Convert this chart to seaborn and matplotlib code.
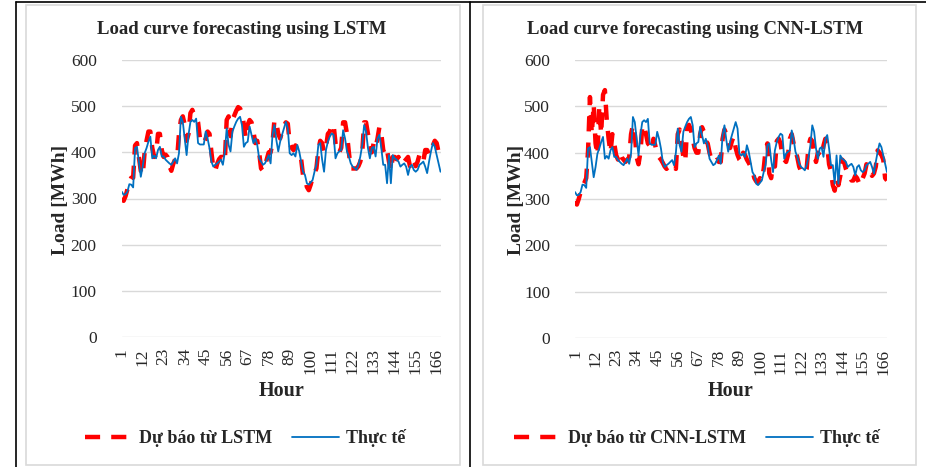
import numpy as np
import pandas as pd
import matplotlib
matplotlib.use('Agg')
import matplotlib.pyplot as plt
import seaborn as sns
from matplotlib.lines import Line2D
from matplotlib.patches import Rectangle

# Hour index and tick labels
hours = list(range(1, 169))
tick_hours = [1, 12, 23, 34, 45, 56, 67, 78, 89, 100, 111, 122, 133, 144, 155, 166]

# Actual load (MWh)
actual = [
    315, 308, 309, 315, 331, 330, 324, 409, 412, 380,
    347, 369, 398, 409, 423, 434, 387, 393, 387, 405,
    412, 391, 391, 384, 380, 376, 373, 380, 387, 376,
    398, 477, 466, 430, 394, 438, 466, 470, 466, 473,
    420, 417, 417, 417, 445, 430, 409, 380, 369, 373,
    376, 380, 384, 373, 400, 452, 416, 402, 445, 456,
    466, 473, 477, 459, 412, 420, 423, 456, 438, 420,
    430, 416, 387, 380, 373, 376, 384, 394, 376, 438,
    459, 427, 402, 423, 438, 452, 466, 452, 398, 394,
    398, 391, 416, 402, 380, 358, 351, 333, 330, 335,
    340, 358, 373, 416, 420, 384, 358, 405, 423, 434,
    441, 438, 387, 398, 402, 405, 448, 430, 402, 391,
    376, 369, 366, 362, 373, 391, 416, 459, 445, 409,
    387, 409, 412, 391, 430, 438, 409, 373, 373, 333,
    394, 333, 394, 387, 384, 380, 369, 373, 376, 369,
    351, 369, 373, 362, 358, 362, 373, 376, 380, 369,
    355, 380, 402, 420, 412, 394, 376, 358,
]

# LSTM forecast (MWh)
lstm = [
    300, 295, 305, 320, 335, 345, 345, 415, 420, 390,
    360, 350, 400, 425, 445, 445, 410, 390, 395, 440,
    440, 405, 390, 395, 390, 370, 360, 375, 385, 385,
    440, 470, 478, 460, 425, 440, 485, 492, 480, 475,
    465, 430, 420, 420, 430, 445, 440, 400, 365, 360,
    375, 385, 390, 390, 380, 470, 478, 435, 470, 480,
    490, 498, 495, 485, 460, 430, 460, 470, 465, 445,
    420, 425, 400, 365, 360, 370, 385, 400, 400, 420,
    470, 465, 440, 430, 445, 458, 465, 462, 420, 410,
    405, 415, 405, 390, 385, 350, 345, 325, 318, 330,
    345, 355, 365, 405, 425, 420, 400, 410, 440, 445,
    460, 460, 420, 400, 400, 410, 465, 465, 440, 400,
    365, 365, 365, 365, 370, 380, 400, 465, 465, 440,
    420, 400, 420, 410, 430, 455, 440, 405, 395, 405,
    380, 360, 390, 390, 385, 390, 375, 380, 380, 385,
    390, 370, 380, 385, 370, 380, 395, 385, 380, 405,
    405, 395, 405, 415, 425, 420, 400, 390,
]

# CNN-LSTM forecast (MWh)
cnn_lstm = [
    295, 288, 300, 315, 328, 335, 345, 405, 520, 440,
    505, 420, 395, 500, 440, 525, 535, 470, 430, 400,
    440, 420, 395, 385, 400, 390, 385, 380, 385, 390,
    440, 460, 440, 390, 375, 400, 455, 460, 440, 420,
    415, 405, 430, 415, 395, 390, 385, 378, 370, 365,
    370, 375, 375, 368, 365, 440, 450, 425, 390, 380,
    455, 460, 450, 430, 410, 400, 400, 440, 455, 445,
    425, 420, 400, 385, 380, 380, 385, 380, 380, 430,
    450, 440, 420, 410, 425, 435, 410, 395, 385, 380,
    400, 395, 385, 378, 370, 360, 345, 338, 335, 345,
    340, 365, 405, 420, 355, 345, 375, 370, 425, 430,
    420, 395, 385, 380, 395, 430, 440, 420, 405, 390,
    370, 360, 358, 355, 365, 415, 430, 425, 400, 380,
    400, 395, 390, 415, 430, 415, 375, 360, 330, 318,
    345, 330, 350, 385, 380, 365, 355, 350, 340, 340,
    350, 345, 335, 330, 345, 355, 375, 370, 360, 350,
    355, 370, 405, 400, 395, 385, 345, 340,
]

sns.set_style('white')
plt.rcParams['font.family'] = ['Liberation Serif', 'DejaVu Serif']

W, H = 926, 467
fig = plt.figure(figsize=(W / 100, H / 100), dpi=100)
fig.patch.set_facecolor('white')


def px(x0, y0, x1, y1):
    # pixel box (top-left origin) -> figure fraction [left, bottom, width, height]
    return [x0 / W, 1 - y1 / H, (x1 - x0) / W, (y1 - y0) / H]


# outer table lines and chart frames
for xs, ys in [((16, 16), (2, 467)), ((470, 470), (2, 467)), ((16, 926), (2, 2))]:
    fig.add_artist(Line2D([x / W for x in xs], [1 - y / H for y in ys],
                          color='black', lw=1.2, transform=fig.transFigure))
for x0, x1 in [(26, 460), (483, 916)]:
    fig.add_artist(Rectangle((x0 / W, 1 - 465 / H), (x1 - x0) / W, (465 - 5) / H,
                             fill=False, edgecolor='#d9d9d9', lw=1.2,
                             transform=fig.transFigure))

panels = [
    dict(box=px(121.7, 60, 440.5, 337), pred=lstm,
         title='Load curve forecasting using LSTM', tx=242,
         ylx=60, xlx=282, label='Dự báo từ LSTM', lgx=245),
    dict(box=px(575, 60, 887, 338), pred=cnn_lstm,
         title='Load curve forecasting using CNN-LSTM', tx=695,
         ylx=517, xlx=731, label='Dự báo từ CNN-LSTM', lgx=697),
]

for p in panels:
    ax = fig.add_axes(p['box'])
    df = pd.DataFrame({'Hour': hours, 'Forecast': p['pred'], 'Actual': actual})
    sns.lineplot(data=df, x='Hour', y='Forecast', ax=ax, color='#ff0000', lw=3.2,
                 label=p['label'], zorder=2)
    ax.lines[-1].set_dashes((3.4, 2.5))
    ax.lines[-1].set_dash_capstyle('butt')
    sns.lineplot(data=df, x='Hour', y='Actual', ax=ax, color='#0070c0', lw=1.3,
                 label='Thực tế', zorder=3)

    ax.set_xlim(1, 168)
    ax.set_ylim(0, 600)
    ax.set_yticks(range(0, 601, 100))
    ax.set_xticks(tick_hours)
    ax.set_xticklabels([str(t) for t in tick_hours], rotation=90)
    ax.tick_params(axis='y', labelsize=12.5, pad=18, length=0)
    ax.tick_params(axis='x', labelsize=12.5, pad=8, length=0)
    ax.grid(axis='y', color='#d9d9d9', lw=1)
    ax.set_axisbelow(True)
    for s in ax.spines.values():
        s.set_visible(False)
    ax.set_xlabel('')
    ax.set_ylabel('')
    ax.set_facecolor('none')

    fig.text(p['tx'] / W, 1 - 30 / H, p['title'], ha='center', va='center',
             fontsize=13.5, fontweight='bold')
    fig.text(p['ylx'] / W, 1 - 200 / H, 'Load [MWh]', ha='center', va='center',
             rotation=90, fontsize=14, fontweight='bold')
    fig.text(p['xlx'] / W, 1 - 391 / H, 'Hour', ha='center', va='center',
             fontsize=14.5, fontweight='bold')

    ax.legend(loc='center', bbox_to_anchor=(p['lgx'] / W, 1 - 438 / H),
              bbox_transform=fig.transFigure, ncol=2, frameon=False,
              prop={'size': 13, 'weight': 'bold'}, handlelength=2.6,
              columnspacing=1.1, handletextpad=0.4)

fig.savefig('out.png', dpi=100, facecolor='white')
